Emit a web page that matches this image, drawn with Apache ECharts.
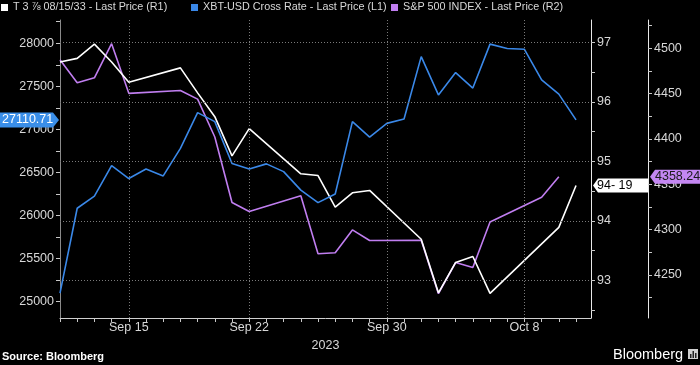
<!DOCTYPE html>
<html><head><meta charset="utf-8">
<script src="https://cdn.jsdelivr.net/npm/echarts@6/dist/echarts.min.js"></script>
<style>html,body{margin:0;padding:0;background:#000;}#c{width:700px;height:365px;}</style>
</head><body><div id="c"></div>
<script>
const seriesNames = ['T 3 \u215E 08/15/33 - Last Price (R1)', 'XBT-USD Cross Rate - Last Price (L1)', 'S&P 500 INDEX - Last Price (R2)'];

const btcDates = ['2023-09-11','2023-09-12','2023-09-13','2023-09-14','2023-09-15','2023-09-16','2023-09-17','2023-09-18','2023-09-19','2023-09-20','2023-09-21','2023-09-22','2023-09-23','2023-09-24','2023-09-25','2023-09-26','2023-09-27','2023-09-28','2023-09-29','2023-09-30','2023-10-01','2023-10-02','2023-10-03','2023-10-04','2023-10-05','2023-10-06','2023-10-07','2023-10-08','2023-10-09','2023-10-10','2023-10-11'];
const btcValues = [25100,26085,26225,26580,26430,26540,26460,26780,27195,27090,26605,26540,26600,26510,26295,26150,26250,27090,26910,27070,27120,27845,27400,27660,27480,27990,27940,27930,27575,27410,27110.71];

const tsyDates = ['2023-09-11','2023-09-12','2023-09-13','2023-09-14','2023-09-15','2023-09-18','2023-09-19','2023-09-20','2023-09-21','2023-09-22','2023-09-25','2023-09-26','2023-09-27','2023-09-28','2023-09-29','2023-10-02','2023-10-03','2023-10-04','2023-10-05','2023-10-06','2023-10-10','2023-10-11'];
const tsyValues = [96.67,96.73,96.97,96.67,96.33,96.57,96.15,95.75,95.09,95.55,94.79,94.76,94.23,94.47,94.51,93.69,92.79,93.30,93.40,92.78,93.89,94.59375];

const spxDates = ['2023-09-11','2023-09-12','2023-09-13','2023-09-14','2023-09-15','2023-09-18','2023-09-19','2023-09-20','2023-09-21','2023-09-22','2023-09-25','2023-09-26','2023-09-27','2023-09-28','2023-09-29','2023-10-02','2023-10-03','2023-10-04','2023-10-05','2023-10-06','2023-10-09','2023-10-10'];
const spxValues = [4487.46,4461.90,4467.44,4505.10,4450.32,4453.53,4443.95,4402.20,4330.00,4320.06,4337.44,4273.53,4274.51,4299.70,4288.05,4288.39,4229.45,4263.75,4258.19,4308.50,4335.66,4358.24];

const xLabelDates = ['2023-09-15','2023-09-22','2023-09-30','2023-10-08'];
const xAxisName = '2023';
const btcTicks = [25000,25500,26000,26500,27000,27500,28000];
const btcMinorTicks = [25250,25750,26250,26750,27250,27750,28250];
const tsyTicks = [93,94,95,96,97];
const tsyMinorTicks = [92.5,93.5,94.5,95.5,96.5];
const spxTicks = [4250,4300,4350,4400,4450,4500];
const spxMinorTicks = [4225,4275,4325,4375,4425,4475,4525];
const btcLastLabel = '27110.71';
const tsyLastLabel = '94- 19';
const spxLastLabel = '4358.24';
const sourceText = 'Source: Bloomberg';
const brandText = 'Bloomberg';

const MONTHS = ['Jan','Feb','Mar','Apr','May','Jun','Jul','Aug','Sep','Oct','Nov','Dec'];
function ts(s){ const p = s.split('-').map(Number); return Date.UTC(p[0], p[1]-1, p[2]); }
function pairs(d, v){ return d.map((x,i)=>[ts(x), v[i]]); }

const FONT = "'Liberation Sans', Arial, sans-serif";
const TXT = '#d8d8d8';
const C_T = '#ffffff', C_B = '#3a88e8', C_S = '#c07ef0';
const DAY = 86400000;

const chart = echarts.init(document.getElementById('c'), null, {renderer:'canvas'});

function yAx(pos, min, max, major, minor, lineColor, offset){
  return {
    type:'value', position:pos, offset:offset||0, min:min, max:max,
    axisLine:{show:true, onZero:false, lineStyle:{color:lineColor, width:1}},
    axisTick:{show:true, length:4, customValues: major.concat(minor), lineStyle:{color:'#c8c8c8'}},
    axisLabel:{show:true, customValues: major, color:TXT, fontSize:12.5, fontFamily:FONT, margin:6,
      formatter:function(v){ return String(v); }},
    splitLine:{show:false}
  };
}

const xMin = ts(btcDates[0]);
const xMax = ts(btcDates[btcDates.length-1]) + 0.87*DAY;

const option = {
  backgroundColor:'#000',
  animation:false,
  grid:{left:60, right:109, top:20, bottom:47, containLabel:false},
  legend:[
    {data:[seriesNames[0]], left:1, top:2, itemWidth:7, itemHeight:7, icon:'rect', selectedMode:false, padding:0, textStyle:{color:TXT, fontSize:10.8, fontFamily:FONT}},
    {data:[seriesNames[1]], left:191, top:2, itemWidth:7, itemHeight:7, icon:'rect', selectedMode:false, padding:0, textStyle:{color:TXT, fontSize:10.8, fontFamily:FONT}},
    {data:[seriesNames[2]], left:391, top:2, itemWidth:7, itemHeight:7, icon:'rect', selectedMode:false, padding:0, textStyle:{color:TXT, fontSize:10.8, fontFamily:FONT}}
  ],
  xAxis:{
    type:'value', min: xMin, max: xMax,
    name: xAxisName, nameLocation:'middle', nameGap:17,
    nameTextStyle:{color:TXT, fontSize:12.5, fontFamily:FONT, verticalAlign:'top'},
    axisLine:{show:true, onZero:false, lineStyle:{color:'#d0d0d0', width:1}},
    axisTick:{show:true, length:4, customValues: btcDates.map(ts), lineStyle:{color:'#c8c8c8'}},
    axisLabel:{show:true, customValues: xLabelDates.map(ts), color:TXT, fontSize:12.5, fontFamily:FONT, margin:3,
      formatter:function(v){ const d=new Date(v); return MONTHS[d.getUTCMonth()]+' '+d.getUTCDate(); }},
    splitLine:{show:false}
  },
  yAxis:[
    yAx('left', 24811, 28270, btcTicks, btcMinorTicks, '#8a8a8a', 0),
    yAx('right', 92.366, 97.375, tsyTicks, tsyMinorTicks, '#e8e8e8', 0),
    yAx('right', 4202.6, 4531.2, spxTicks, spxMinorTicks, '#e8e8e8', 57)
  ],
  series:[
    {type:'line', name:'gridlines', xAxisIndex:0, yAxisIndex:1, data:[], silent:true, z:1,
      markLine:{silent:true, symbol:'none', animation:false, label:{show:false},
        lineStyle:{color:'#7a7a7a', type:[1,2], width:1},
        data: tsyTicks.map(v=>({yAxis:v})).concat(xLabelDates.map(d=>({xAxis:ts(d)})))}},
    {type:'line', name:seriesNames[0], xAxisIndex:0, yAxisIndex:1, data:pairs(tsyDates,tsyValues), color:C_T,
      showSymbol:false, symbol:'none', lineStyle:{width:1.6, color:C_T}, z:3},
    {type:'line', name:seriesNames[1], xAxisIndex:0, yAxisIndex:0, data:pairs(btcDates,btcValues), color:C_B,
      showSymbol:false, symbol:'none', lineStyle:{width:1.6, color:C_B}, z:3},
    {type:'line', name:seriesNames[2], xAxisIndex:0, yAxisIndex:2, data:pairs(spxDates,spxValues), color:C_S,
      showSymbol:false, symbol:'none', lineStyle:{width:1.6, color:C_S}, z:2}
  ]
};
chart.setOption(option);

const yB = chart.convertToPixel({yAxisIndex:0}, btcValues[btcValues.length-1]);
const yT = chart.convertToPixel({yAxisIndex:1}, tsyValues[tsyValues.length-1]);
const yS = chart.convertToPixel({yAxisIndex:2}, spxValues[spxValues.length-1]);
const xL = chart.convertToPixel({xAxisIndex:0}, xMin);
const xR = chart.convertToPixel({xAxisIndex:0}, xMax);
const xR2 = xR + 57;

chart.setOption({graphic:[
  {type:'polygon', z:100, shape:{points:[[0,yB-7.5],[xL-7,yB-7.5],[xL-1,yB],[xL-7,yB+7.5],[0,yB+7.5]]}, style:{fill:'#3a8ee8'}},
  {type:'text', z:101, x:2, y:yB, style:{text:btcLastLabel, fill:'#ffffff', font:'12.5px '+FONT, textVerticalAlign:'middle', textAlign:'left'}},
  {type:'polygon', z:100, shape:{points:[[xR+2,yT],[xR+7,yT-7],[xR2,yT-7],[xR2,yT+7],[xR+7,yT+7]]}, style:{fill:'#ffffff'}},
  {type:'text', z:101, x:xR+6, y:yT, style:{text:tsyLastLabel, fill:'#000000', font:'12.5px '+FONT, textVerticalAlign:'middle', textAlign:'left'}},
  {type:'polygon', z:100, shape:{points:[[xR2+2,yS],[xR2+7,yS-7],[700,yS-7],[700,yS+7],[xR2+7,yS+7]]}, style:{fill:'#c487f2'}},
  {type:'text', z:101, x:xR2+7, y:yS, style:{text:spxLastLabel, fill:'#1a1a1a', font:'12.5px '+FONT, textVerticalAlign:'middle', textAlign:'left'}},
  {type:'text', z:101, x:2, y:357, style:{text:sourceText, fill:'#ffffff', font:'bold 11px '+FONT, textVerticalAlign:'middle', textAlign:'left'}},
  {type:'text', z:101, x:613, y:355, style:{text:brandText, fill:'#ffffff', font:'14.5px '+FONT, textVerticalAlign:'middle', textAlign:'left'}},
  {type:'rect', z:101, shape:{x:688, y:349, width:10, height:10}, style:{fill:'#d0d0d0'}},
  {type:'rect', z:102, shape:{x:690, y:354, width:1.5, height:4}, style:{fill:'#222'}},
  {type:'rect', z:102, shape:{x:692.5, y:351, width:1.5, height:7}, style:{fill:'#222'}},
  {type:'rect', z:102, shape:{x:695, y:353, width:1.5, height:5}, style:{fill:'#222'}}
]});
</script>
</body></html>
